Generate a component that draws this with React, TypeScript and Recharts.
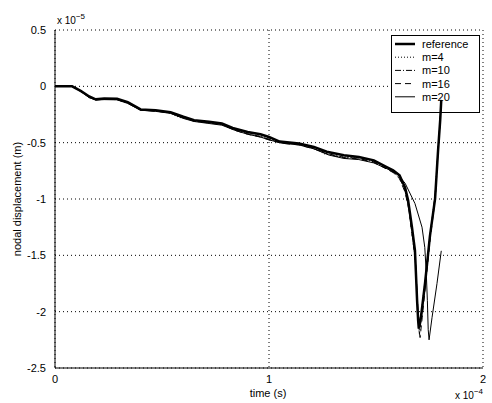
import { LineChart, Line, XAxis, YAxis, CartesianGrid, Customized } from "recharts";

// time in units of 1e-4 s, displacement in units of 1e-5 m
const refTime = [0, 0.08, 0.12, 0.16, 0.19, 0.23, 0.29, 0.34, 0.4, 0.47, 0.54, 0.6, 0.65, 0.72, 0.78, 0.83, 0.9, 0.96, 1.0, 1.05, 1.14, 1.21, 1.27, 1.35, 1.42, 1.49, 1.55, 1.58, 1.61, 1.636, 1.65, 1.668, 1.682, 1.692, 1.697, 1.7, 1.71, 1.729, 1.752, 1.776, 1.79, 1.8, 1.805];
const refDisp = [0, 0, -0.04, -0.09, -0.115, -0.108, -0.11, -0.14, -0.205, -0.213, -0.23, -0.27, -0.3, -0.315, -0.33, -0.37, -0.405, -0.426, -0.45, -0.49, -0.508, -0.538, -0.58, -0.612, -0.627, -0.657, -0.716, -0.745, -0.79, -0.9, -1.01, -1.25, -1.455, -1.9, -2.08, -2.15, -2.05, -1.75, -1.33, -1.0, -0.57, -0.3, -0.12];

const m4Time = [0, 0.08, 0.12, 0.16, 0.19, 0.23, 0.29, 0.34, 0.4, 0.47, 0.54, 0.58, 0.65, 0.72, 0.78, 0.83, 0.9, 0.95, 1.0, 1.05, 1.14, 1.21, 1.26, 1.33, 1.42, 1.49, 1.55, 1.58, 1.61, 1.636, 1.652, 1.668, 1.683, 1.693, 1.698, 1.702, 1.712, 1.73, 1.752, 1.776, 1.79, 1.8, 1.805];
const m4Disp = [0, 0, -0.04, -0.095, -0.12, -0.112, -0.115, -0.145, -0.205, -0.215, -0.24, -0.275, -0.305, -0.32, -0.335, -0.38, -0.41, -0.44, -0.46, -0.495, -0.51, -0.545, -0.6, -0.625, -0.63, -0.665, -0.72, -0.75, -0.8, -0.91, -1.05, -1.3, -1.5, -1.92, -2.08, -2.12, -2.0, -1.72, -1.32, -0.98, -0.56, -0.3, -0.12];

const m10Time = [0, 0.08, 0.12, 0.16, 0.19, 0.23, 0.29, 0.34, 0.4, 0.47, 0.54, 0.6, 0.65, 0.72, 0.78, 0.84, 0.9, 0.96, 1.0, 1.06, 1.14, 1.21, 1.28, 1.35, 1.42, 1.49, 1.55, 1.58, 1.61, 1.636, 1.652, 1.67, 1.684, 1.694, 1.699, 1.703, 1.714, 1.732, 1.754, 1.776, 1.79, 1.8, 1.805];
const m10Disp = [0, 0, -0.045, -0.1, -0.12, -0.115, -0.118, -0.15, -0.21, -0.22, -0.235, -0.28, -0.31, -0.325, -0.34, -0.385, -0.42, -0.445, -0.47, -0.5, -0.515, -0.55, -0.6, -0.63, -0.64, -0.67, -0.73, -0.76, -0.81, -0.93, -1.07, -1.33, -1.55, -1.95, -2.12, -2.2, -2.02, -1.7, -1.3, -0.97, -0.56, -0.3, -0.13];

const m16Time = [0, 0.08, 0.12, 0.16, 0.19, 0.23, 0.29, 0.34, 0.4, 0.47, 0.54, 0.6, 0.65, 0.72, 0.78, 0.84, 0.9, 0.96, 1.0, 1.06, 1.14, 1.21, 1.28, 1.35, 1.42, 1.49, 1.55, 1.58, 1.61, 1.636, 1.654, 1.672, 1.686, 1.696, 1.701, 1.706, 1.716, 1.734, 1.756, 1.778, 1.79, 1.8, 1.805];
const m16Disp = [0, 0, -0.04, -0.095, -0.118, -0.11, -0.115, -0.148, -0.208, -0.218, -0.232, -0.278, -0.308, -0.322, -0.338, -0.39, -0.425, -0.45, -0.475, -0.505, -0.52, -0.555, -0.605, -0.635, -0.645, -0.675, -0.735, -0.765, -0.82, -0.94, -1.1, -1.36, -1.6, -1.98, -2.15, -2.23, -2.05, -1.72, -1.31, -0.98, -0.57, -0.3, -0.13];

const m20Time = [0, 0.08, 0.12, 0.16, 0.19, 0.23, 0.29, 0.34, 0.4, 0.47, 0.54, 0.6, 0.65, 0.72, 0.78, 0.84, 0.9, 0.96, 1.0, 1.06, 1.14, 1.21, 1.28, 1.35, 1.42, 1.49, 1.55, 1.6, 1.636, 1.682, 1.715, 1.728, 1.735, 1.74, 1.744, 1.748, 1.762, 1.785, 1.805];
const m20Disp = [0, 0, -0.045, -0.1, -0.122, -0.118, -0.12, -0.152, -0.212, -0.222, -0.24, -0.285, -0.312, -0.33, -0.345, -0.39, -0.425, -0.45, -0.475, -0.505, -0.52, -0.555, -0.61, -0.64, -0.65, -0.68, -0.73, -0.78, -0.86, -1.04, -1.25, -1.43, -1.66, -1.9, -2.16, -2.25, -2.05, -1.75, -1.46];

const xTicks = [0, 1, 2];
const yTicks = [0.5, 0, -0.5, -1, -1.5, -2, -2.5];
const legendNames = ["reference", "m=4", "m=10", "m=16", "m=20"];

const toPoints = (time: number[], disp: number[]) => time.map((t, i) => ({ t, u: disp[i] }));

const series = [
  { name: legendNames[0], data: toPoints(refTime, refDisp), width: 2.5, dash: undefined },
  { name: legendNames[1], data: toPoints(m4Time, m4Disp), width: 1, dash: "1 2" },
  { name: legendNames[2], data: toPoints(m10Time, m10Disp), width: 1, dash: "6 2 1 2" },
  { name: legendNames[3], data: toPoints(m16Time, m16Disp), width: 1, dash: "6 4" },
  { name: legendNames[4], data: toPoints(m20Time, m20Disp), width: 1, dash: undefined },
];

const font = "'Liberation Sans', Arial, sans-serif";

function Annotations() {
  return (
    <g fontFamily={font} fill="#000">
      <text x={57} y={24} fontSize={10}>
        x 10
        <tspan dy={-5} fontSize={8}>−5</tspan>
      </text>
      <text x={455} y={399} fontSize={10}>
        x 10
        <tspan dy={-5} fontSize={8}>−4</tspan>
      </text>
      <text x={268} y={397} fontSize={11} textAnchor="middle">time (s)</text>
      <text x={21} y={199} fontSize={11} textAnchor="middle" transform="rotate(-90 21 199)">
        nodal displacement (m)
      </text>
      {/* legend box */}
      <g transform="translate(391 35)">
        <rect x={0.5} y={0.5} width={88} height={77} fill="#fff" stroke="#000" />
        {series.map((s, i) => {
          const y = 9 + i * 13.2;
          return (
            <g key={s.name}>
              <line x1={4} x2={24} y1={y} y2={y} stroke="#000" strokeWidth={s.width} strokeDasharray={s.dash} />
              <text x={31} y={y + 4} fontSize={11}>
                {s.name}
              </text>
            </g>
          );
        })}
      </g>
    </g>
  );
}

export default function App() {
  return (
    <div style={{ position: "absolute", left: 0, top: 0, background: "#fff" }}>
      <LineChart width={492} height={403} margin={{ top: 30, right: 9, left: 10, bottom: 5 }}>
        <CartesianGrid stroke="#000" strokeDasharray="1 3" />
        <XAxis
          type="number"
          dataKey="t"
          domain={[0, 2]}
          ticks={xTicks}
          allowDuplicatedCategory={false}
          height={30}
          stroke="#000"
          tickLine={false}
          tick={{ fill: "#000", fontSize: 11, fontFamily: font }}
          tickMargin={1}
        />
        <YAxis
          type="number"
          domain={[-2.5, 0.5]}
          ticks={yTicks}
          width={45}
          stroke="#000"
          tickLine={false}
          tick={{ fill: "#000", fontSize: 11, fontFamily: font }}
          tickMargin={3}
        />
        {series.map((s) => (
          <Line
            key={s.name}
            data={s.data}
            dataKey="u"
            name={s.name}
            type="linear"
            stroke="#000"
            strokeWidth={s.width}
            strokeDasharray={s.dash}
            dot={false}
            isAnimationActive={false}
          />
        ))}
        <Customized component={Annotations} />
      </LineChart>
    </div>
  );
}
